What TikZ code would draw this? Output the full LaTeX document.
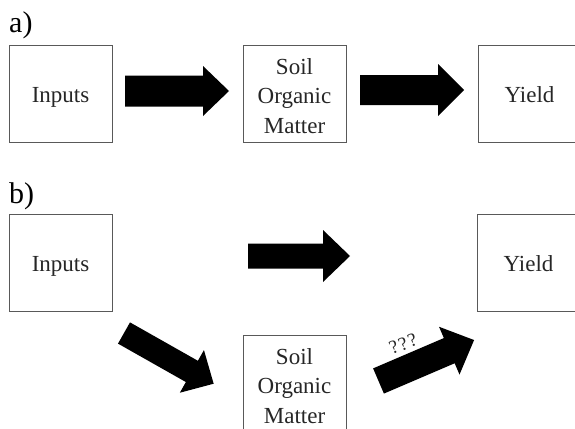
\documentclass[tikz,border=0pt]{standalone}
\usepackage{fontspec}
\setmainfont{Liberation Serif}
\begin{document}
\begin{tikzpicture}[x=1pt,y=1pt,
  box/.style={draw=black!65,line width=0.9pt,minimum width=103pt,minimum height=97pt,inner sep=0pt,
    align=center,text=black!85,font=\fontsize{23}{29.5}\selectfont},
  onebox/.style={box,text height=17pt,text depth=0pt},
  blk/.style={fill=black},
  paneltag/.style={anchor=base west,inner sep=0pt,font=\fontsize{30}{32}\selectfont},
  qlabel/.style={inner sep=0pt,font=\fontsize{19}{20}\selectfont,text=black!85}]
\useasboundingbox (0,0) rectangle (575,-428);
% block arrow: tail centre x,y ; angle ; length ; shaft half width ; head half width ; head length
\newcommand\blockarrow[7]{%
  \fill[blk,shift={(#1,#2)},rotate=#3]
    (0,-#5) -- ({#4-#7},-#5) -- ({#4-#7},-#6) -- (#4,0) -- ({#4-#7},#6) -- ({#4-#7},#5) -- (0,#5) -- cycle;}
% panel a
\node[paneltag] (taga) at (9,-33) {a)};
\node[onebox] (ina) at (60.5,-93.5) {Inputs};
\node[box] (soma) at (294.5,-93.5) {\rule{0pt}{21pt}Soil\\Organic\\Matter};
\node[onebox] (yielda) at (529.5,-93.5) {Yield};
\blockarrow{125}{-91}{0}{104}{15.5}{25}{26}
\blockarrow{360}{-90}{0}{104}{15}{26}{26}
% panel b
\node[paneltag] (tagb) at (9,-203) {b)};
\node[onebox] (inb) at (60.5,-262.5) {Inputs};
\node[onebox] (yieldb) at (528.5,-262.5) {Yield};
\node[box] (somb) at (294.5,-383.5) {\rule{0pt}{21pt}Soil\\Organic\\Matter};
\blockarrow{248}{-256}{0}{102}{12.5}{26}{27}
\blockarrow{124}{-333}{-29.5}{103}{12.2}{24.5}{25}
\blockarrow{378.5}{-381}{23.2}{104}{13.7}{26}{27}
\node[qlabel,rotate=21] (q) at (403,-344) {?\kern1.5pt?\kern1.5pt?};
\end{tikzpicture}
\end{document}
